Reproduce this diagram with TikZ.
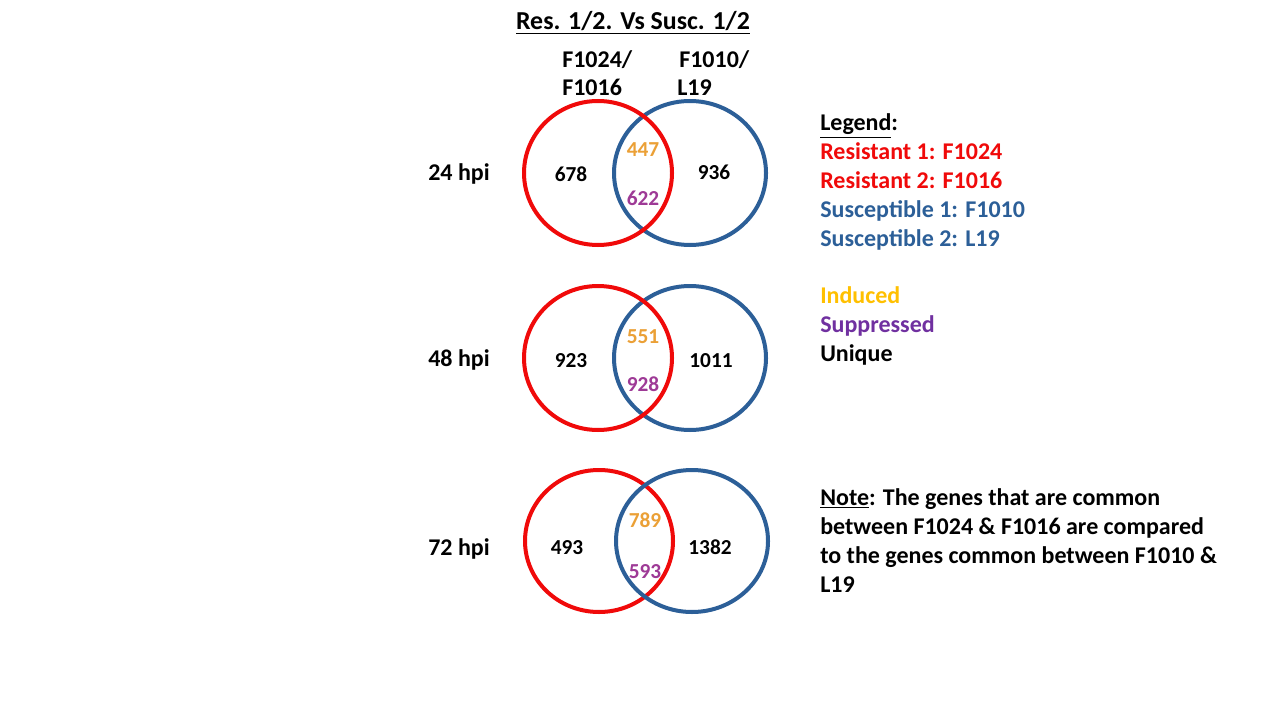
\documentclass[tikz,border=0pt]{standalone}
\usepackage{fontspec}
\setmainfont{Carlito}
\definecolor{cred}{HTML}{F00A0A}
\definecolor{cblue}{HTML}{2C5F98}
\definecolor{corange}{HTML}{EBA036}
\definecolor{cpurple}{HTML}{9E3A96}
\definecolor{cinduced}{HTML}{FFC000}
\definecolor{csupp}{HTML}{7030A0}
\begin{document}
\begin{tikzpicture}[x=0.75pt,y=-0.75pt,
  txt/.style={font=\bfseries\fontsize{18}{21.75}\selectfont, inner sep=0pt, anchor=base west},
  num/.style={font=\bfseries\fontsize{16}{19}\selectfont, inner sep=0pt, anchor=base},
  redc/.style={draw=cred, line width=3pt},
  bluec/.style={draw=cblue, line width=3pt}]
\useasboundingbox (0,0) rectangle (1280,720);
\fill[white] (0,0) rectangle (1280,720);
% title and headers
\node[txt, anchor=base, font=\bfseries\fontsize{19.4}{23}\selectfont] (title) at (633,30) {\underline{Res. 1/2. Vs Susc. 1/2}};
\node[txt] (h1a) at (562,68) {F1024/};
\node[txt] (h1b) at (562,96) {F1016};
\node[txt] (h2a) at (679,68) {F1010/};
\node[txt] (h2b) at (677,96) {L19};
% row labels
\node[txt] (r24) at (428,181) {24 hpi};
\node[txt] (r48) at (428,366) {48 hpi};
\node[txt] (r72) at (428,555) {72 hpi};
% circles
\draw[bluec] (690,173) ellipse [x radius=76, y radius=72];
\draw[redc] (598,173) ellipse [x radius=74, y radius=72];
\draw[bluec] (690,358) ellipse [x radius=76, y radius=72];
\draw[redc] (598,358) ellipse [x radius=74, y radius=72];
\draw[redc] (599,541) ellipse [x radius=74, y radius=71];
\draw[bluec] (692,541) ellipse [x radius=76, y radius=71];
% numbers
\node[num] (n1) at (571,182) {678};
\node[num, text=corange] (n2) at (643,157) {447};
\node[num, text=cpurple] (n3) at (643,206) {622};
\node[num] (n4) at (714,180) {936};
\node[num] (n5) at (571,367) {923};
\node[num, text=corange] (n6) at (643,343) {551};
\node[num, text=cpurple] (n7) at (643,391) {928};
\node[num] (n8) at (711,367) {1011};
\node[num] (n9) at (567,554) {493};
\node[num, text=corange] (n10) at (645,527) {789};
\node[num, text=cpurple] (n11) at (645,578) {593};
\node[num] (n12) at (710,554) {1382};
% legend
\node[txt] (l1) at (820,131) {\underline{Legend}:};
\node[txt, text=cred] (l2) at (820,160) {Resistant 1: F1024};
\node[txt, text=cred] (l3) at (820,189) {Resistant 2: F1016};
\node[txt, text=cblue] (l4) at (820,218) {Susceptible 1: F1010};
\node[txt, text=cblue] (l5) at (820,247) {Susceptible 2: L19};
\node[txt, text=cinduced] (l6) at (820,303) {Induced};
\node[txt, text=csupp] (l7) at (820,332) {Suppressed};
\node[txt] (l8) at (820,361) {Unique};
% note
\node[txt] (m1) at (820,505) {\underline{Note}: The genes that are common};
\node[txt] (m2) at (820,534) {between F1024 \& F1016 are compared};
\node[txt] (m3) at (820,563) {to the genes common between F1010 \&};
\node[txt] (m4) at (820,592) {L19};
\end{tikzpicture}
\end{document}
